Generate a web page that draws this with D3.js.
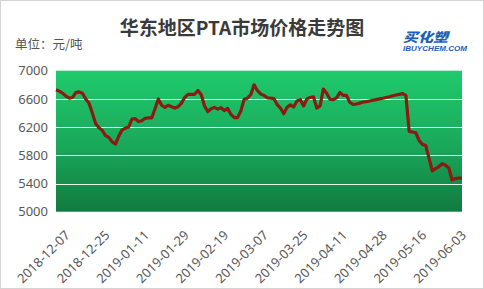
<!DOCTYPE html>
<html>
<head>
<meta charset="utf-8">
<script src="https://cdn.jsdelivr.net/npm/d3@7"></script>
<style>
  html, body { margin: 0; padding: 0; background: #fff; }
  svg { display: block; }
  .tick text { font-family: "Noto Sans", "Liberation Sans", sans-serif; fill: #595959; }
</style>
</head>
<body>
<div id="chart"></div>
<script>
// PTA price, East China, yuan/ton, one value per trading day
const prices = [
  6730, 6710, 6680, 6640, 6610, 6620, 6690, 6700, 6680, 6600,
  6540, 6400, 6250, 6190, 6155, 6080, 6055, 5990, 5960, 6070,
  6160, 6185, 6200, 6315, 6320, 6280, 6290, 6325, 6330, 6330,
  6460, 6600, 6510, 6480, 6510, 6490, 6470, 6490, 6540, 6620,
  6665, 6665, 6665, 6720, 6660, 6500, 6420, 6460, 6480, 6455,
  6475, 6435, 6465, 6380, 6335, 6335, 6430, 6595, 6610, 6660,
  6800, 6720, 6670, 6650, 6615, 6610, 6605, 6520, 6470, 6390,
  6480, 6515, 6485, 6570, 6590, 6500, 6600, 6620, 6630, 6470,
  6500, 6740, 6680, 6595, 6590, 6615, 6690, 6650, 6650, 6550,
  6523, 6528, 6540, 6555, 6561, 6570, 6580, 6590, 6600, 6609,
  6620, 6630, 6645, 6655, 6665, 6675, 6650, 6140, 6130, 6120,
  6010, 5955, 5940, 5760, 5580, 5610, 5640, 5680, 5660, 5620,
  5450, 5470, 5475, 5475
];
// x labels, one every 12 trading days
const tickLabels = [
  "2018-12-07", "2018-12-25", "2019-01-11", "2019-01-29", "2019-02-19",
  "2019-03-07", "2019-03-25", "2019-04-11", "2019-04-28", "2019-05-16",
  "2019-06-03"
];
const tickStep = 12;
const yTicks = [5000, 5400, 5800, 6200, 6600, 7000];

const W = 484, H = 289;
const margin = {top: 70.7, right: 22, bottom: 77.3, left: 56};

const svg = d3.select("#chart").append("svg")
    .attr("width", W)
    .attr("height", H);

svg.append("rect")
    .attr("x", 0.5).attr("y", 0.5)
    .attr("width", W - 1).attr("height", H - 1)
    .attr("fill", "#fff")
    .attr("stroke", "#d4d4d4");

const defs = svg.append("defs");
const grad = defs.append("linearGradient")
    .attr("id", "bg").attr("x1", 0).attr("y1", 0).attr("x2", 0).attr("y2", 1);
grad.append("stop").attr("offset", "0%").attr("stop-color", "#1fca6c");
grad.append("stop").attr("offset", "55%").attr("stop-color", "#1aa75a");
grad.append("stop").attr("offset", "100%").attr("stop-color", "#117a3f");

const x = d3.scaleLinear()
    .domain([0, prices.length - 1])
    .range([margin.left, W - margin.right]);
const y = d3.scaleLinear()
    .domain([5000, 7000])
    .range([H - margin.bottom, margin.top]);

// plot background
svg.append("rect")
    .attr("x", margin.left)
    .attr("y", margin.top)
    .attr("width", W - margin.right - margin.left)
    .attr("height", H - margin.bottom - margin.top)
    .attr("fill", "url(#bg)");

// gridlines
svg.append("g").selectAll("line")
    .data(yTicks.filter(d => d > 5000 && d < 7000))
    .join("line")
    .attr("x1", margin.left).attr("x2", W - margin.right)
    .attr("y1", d => Math.round(y(d)) + 0.5).attr("y2", d => Math.round(y(d)) + 0.5)
    .attr("stroke", "#e8f7ee")
    .attr("stroke-width", 1.2);

// y axis
const yAxis = svg.append("g")
    .attr("transform", `translate(${margin.left},0)`)
    .call(d3.axisLeft(y).tickValues(yTicks).tickSize(0).tickPadding(8).tickFormat(d3.format("d")));
yAxis.select(".domain").remove();
yAxis.selectAll("text").attr("font-size", 13);

// x axis
const xAxis = svg.append("g")
    .attr("transform", `translate(0,${H - margin.bottom})`)
    .call(d3.axisBottom(x)
        .tickValues(tickLabels.map((d, i) => i * tickStep))
        .tickSize(0)
        .tickFormat((d, i) => tickLabels[i]));
xAxis.select(".domain").remove();
xAxis.selectAll("text")
    .attr("font-size", 13)
    .attr("text-anchor", "end")
    .attr("dy", "0.35em")
    .attr("transform", "translate(9,19) rotate(-45)");

// price line
svg.append("path")
    .datum(prices)
    .attr("fill", "none")
    .attr("stroke", "#8b1a12")
    .attr("stroke-width", 3.2)
    .attr("stroke-linejoin", "round")
    .attr("d", d3.line().x((d, i) => x(i)).y(d => y(d)));

// title and unit
svg.append("text")
    .attr("x", 242).attr("y", 35)
    .attr("text-anchor", "middle")
    .attr("font-family", "'Noto Sans CJK SC', sans-serif")
    .attr("font-weight", "bold")
    .attr("font-size", 19)
    .attr("fill", "#3a3a3a")
    .text("华东地区PTA市场价格走势图");

svg.append("text")
    .attr("x", 15).attr("y", 49)
    .attr("font-family", "'Noto Sans CJK SC', sans-serif")
    .attr("font-size", 12.5)
    .attr("fill", "#555")
    .text("单位：元/吨");

// logo
svg.append("text")
    .attr("x", 403).attr("y", 42)
    .attr("font-family", "'Noto Sans CJK SC', sans-serif")
    .attr("font-weight", "900")
    .attr("font-style", "italic")
    .attr("font-size", 13)
    .attr("textLength", 45)
    .attr("lengthAdjust", "spacingAndGlyphs")
    .attr("fill", "#1f5fb8")
    .text("买化塑");
svg.append("text")
    .attr("x", 403).attr("y", 51)
    .attr("font-family", "'Liberation Sans', sans-serif")
    .attr("font-weight", "bold")
    .attr("font-style", "italic")
    .attr("font-size", 6.5)
    .attr("textLength", 64)
    .attr("lengthAdjust", "spacingAndGlyphs")
    .attr("fill", "#1f5fb8")
    .text("IBUYCHEM.COM");
</script>
</body>
</html>
